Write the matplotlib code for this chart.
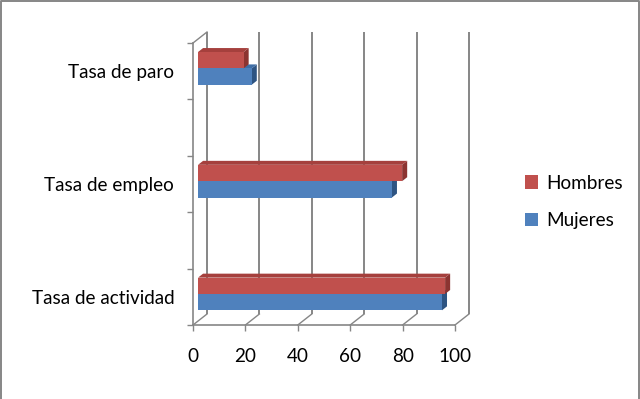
import matplotlib
matplotlib.use("Agg")
import matplotlib.pyplot as plt
from matplotlib.patches import Polygon, Rectangle, Patch
from matplotlib.lines import Line2D
import numpy as np

# ---- data ----
categories = ["Tasa de actividad", "Tasa de empleo", "Tasa de paro"]
hombres = [94.3, 77.9, 17.4]
mujeres = [93.1, 74.0, 20.5]
series_names = ["Hombres", "Mujeres"]
xticks = [0, 20, 40, 60, 80, 100]

# ---- style ----
plt.rcParams['font.family'] = ['Lato', 'DejaVu Sans']
GRID = "#868686"
RED, RED_TOP, RED_SIDE = "#C0504D", "#A5403D", "#8C3431"
BLUE, BLUE_TOP, BLUE_SIDE = "#4F81BD", "#3F6EA6", "#2E5482"
FS = 13.6

W, H = 640, 399
fig = plt.figure(figsize=(W / 100, H / 100), dpi=100)
ax_l, ax_r, ax_t, ax_b = 193, 455, 43, 325
ax = fig.add_axes([ax_l / W, 1 - ax_b / H, (ax_r - ax_l) / W, (ax_b - ax_t) / H])

n_slots = 5  # two empty slots between categories
slot_pos = [0, 2, 4]
ax.set_xlim(0, 100)
ax.set_ylim(-0.5, n_slots - 0.5)

# depth in data units
px_x = 100 / (ax_r - ax_l)
px_y = n_slots / (ax_b - ax_t)
DX = 14 * px_x
DY = 11 * px_y
f_front, f_back = 0.36, 0.72
bar_h = 0.29

ymin, ymax = -0.5, n_slots - 0.5
# back wall gridlines
for xv in xticks:
    ax.plot([xv + DX, xv + DX], [ymin + DY, ymax + DY], color=GRID, lw=1.4,
            clip_on=False, zorder=1, solid_capstyle='butt')
    # floor diagonals
    ax.plot([xv, xv + DX], [ymin, ymin + DY], color=GRID, lw=1.0,
            clip_on=False, zorder=1)
# left back wall top diagonal
ax.plot([0, DX], [ymax, ymax + DY], color=GRID, lw=1.0, clip_on=False, zorder=1)


def bar3d(v, y0, front, top, side):
    dxf, dyf = f_front * DX, f_front * DY
    dxb, dyb = f_back * DX, f_back * DY
    y1 = y0 + bar_h
    ax.add_patch(Polygon([(v + dxf, y0 + dyf), (v + dxb, y0 + dyb),
                          (v + dxb, y1 + dyb), (v + dxf, y1 + dyf)],
                         closed=True, fc=side, ec='none', zorder=3, clip_on=False))
    ax.add_patch(Polygon([(dxf, y1 + dyf), (v + dxf, y1 + dyf),
                          (v + dxb, y1 + dyb), (dxb, y1 + dyb)],
                         closed=True, fc=top, ec='none', zorder=3, clip_on=False))
    ax.add_patch(Rectangle((dxf, y0 + dyf), v, bar_h, fc=front, ec='none',
                           zorder=3, clip_on=False))


for pos, hv, mv in zip(slot_pos, hombres, mujeres):
    bar3d(mv, pos - bar_h - 0.02, BLUE, BLUE_TOP, BLUE_SIDE)
    bar3d(hv, pos - 0.02, RED, RED_TOP, RED_SIDE)

# axes styling
for s in ['top', 'right']:
    ax.spines[s].set_visible(False)
for s in ['left', 'bottom']:
    ax.spines[s].set_color(GRID)
    ax.spines[s].set_linewidth(1.2)
ax.set_xticks(xticks)
ax.set_xticklabels([str(x) for x in xticks], fontsize=FS)
ax.tick_params(axis='x', length=4.3, width=1.0, color=GRID, pad=12)
ax.set_yticks(slot_pos)
ax.set_yticklabels(categories, fontsize=FS)
ax.set_yticks(np.arange(-0.5, n_slots, 1.0), minor=True)
ax.tick_params(axis='y', which='major', length=0, pad=13.5)
ax.tick_params(axis='y', which='minor', length=4.3, width=1.0, color=GRID)
ax.set_facecolor('none')

# legend
handles = [Patch(fc=RED, ec='none'), Patch(fc=BLUE, ec='none')]
fig.legend(handles, series_names, loc='center left',
           bbox_to_anchor=(508 / W, 1 - 202 / H), frameon=False,
           fontsize=FS, handlelength=0.7, handleheight=0.7,
           handletextpad=0.45, labelspacing=1.1)

# chart border (left, top, right)
bx0, bx1 = 1 / W, 1 - 1.5 / W
by1 = 1 - 1 / H
fig.lines.append(Line2D([bx0, bx0, bx1, bx1], [0, by1, by1, 0],
                        transform=fig.transFigure, color=GRID, lw=1.4))

fig.savefig("out.png", dpi=100)
